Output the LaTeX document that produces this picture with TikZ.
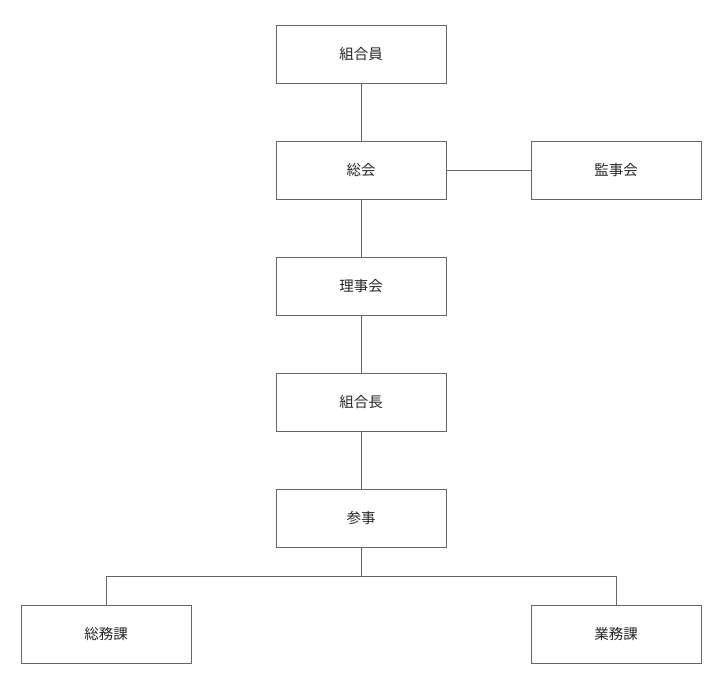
\documentclass[tikz,border=0pt]{standalone}
\usepackage{fontspec}
\newfontfamily\cjk{Noto Sans CJK JP}
\begin{document}
\begin{tikzpicture}[x=1pt,y=-1pt,
  box/.style={draw=black!60,line width=1pt,minimum width=170pt,minimum height=58pt,inner sep=0pt,font=\cjk\fontsize{14.5}{16}\selectfont,text=black!85},
  conn/.style={draw=black!60,line width=1pt}]
\useasboundingbox (0,0) rectangle (723,689);
\node[box] (a) at (361,54) {組合員};
\node[box] (b) at (361,170) {総会};
\node[box] (k) at (616,170) {監事会};
\node[box] (r) at (361,286) {理事会};
\node[box] (c) at (361,402) {組合長};
\node[box] (s) at (361,518) {参事};
\node[box] (g) at (106,634) {総務課};
\node[box] (w) at (616,634) {業務課};
\coordinate (j) at (361,576);
\draw[conn] (a) -- (b);
\draw[conn] (b) -- (k);
\draw[conn] (b) -- (r);
\draw[conn] (r) -- (c);
\draw[conn] (c) -- (s);
\draw[conn] (s) -- (j);
\draw[conn] (j) -| (g);
\draw[conn] (j) -| (w);
\end{tikzpicture}
\end{document}
